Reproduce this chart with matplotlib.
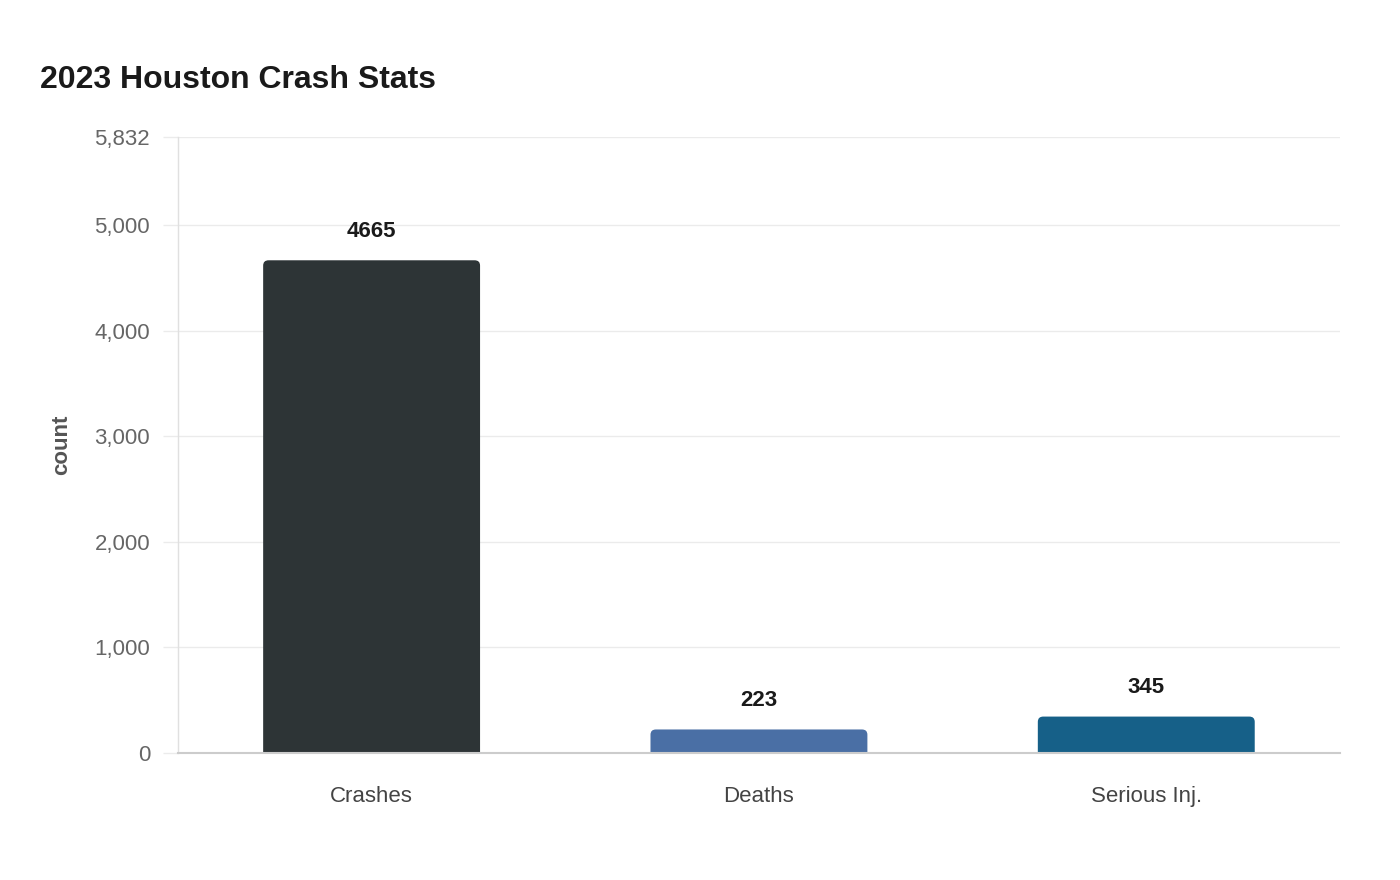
import matplotlib.pyplot as plt
from matplotlib.patches import FancyBboxPatch
from matplotlib.ticker import FuncFormatter

plt.rcParams["font.family"] = ["Liberation Sans", "DejaVu Sans"]

# data
categories = ["Crashes", "Deaths", "Serious Inj."]
counts = [4665, 223, 345]
colors = ["#2d3436", "#4a6fa5", "#166088"]
y_ticks = [0, 1000, 2000, 3000, 4000, 5000, 5832]
y_max = 5832

fig = plt.figure(figsize=(14, 8.8), dpi=100)
ax = fig.add_axes([0.1271, 0.1443, 0.83, 0.70])

bars = ax.bar(range(len(categories)), counts, width=0.56, color=colors)
ax.set_xlim(-0.5, len(categories) - 0.5)
ax.set_ylim(0, y_max)

# swap plain bars for ones with rounded top corners (bottom hidden below 0)
rx = 0.014
ry = 50
for b in bars:
    x, w, h = b.get_x(), b.get_width(), b.get_height()
    p = FancyBboxPatch((x, -ry), w, h + ry,
                       boxstyle=f"round,pad=0,rounding_size={rx}",
                       mutation_aspect=ry / rx,
                       facecolor=b.get_facecolor(), edgecolor="none", zorder=2)
    ax.add_patch(p)
    b.remove()
    ax.text(x + w / 2, h + 175, str(int(h)), ha="center", va="bottom",
            fontsize=16, fontweight="bold", color="#1a1a1a")

ax.set_xticks(range(len(categories)))
ax.set_xticklabels(categories, fontsize=16, color="#444444")
ax.set_yticks(y_ticks)
ax.yaxis.set_major_formatter(FuncFormatter(lambda v, _: f"{int(v):,}"))
ax.tick_params(axis="y", labelsize=16, labelcolor="#666666", length=11,
               color="#ebebeb", width=1, pad=9)
ax.tick_params(axis="x", length=0, pad=24)

ax.grid(axis="y", color="#ebebeb", linewidth=1)
ax.set_axisbelow(True)
for s in ["top", "right"]:
    ax.spines[s].set_visible(False)
ax.spines["left"].set_color("#e0e0e0")
ax.spines["left"].set_linewidth(1)
ax.spines["bottom"].set_color("#cccccc")
ax.spines["bottom"].set_linewidth(1.5)

ax.set_ylabel("count", fontsize=16, fontweight="bold", color="#555555", labelpad=16)

fig.text(40 / 1400, 1 - 80 / 880, "2023 Houston Crash Stats", fontsize=23,
         fontweight="bold", color="#1a1a1a", ha="left", va="center")

fig.savefig("out.png", dpi=100, facecolor="white")
